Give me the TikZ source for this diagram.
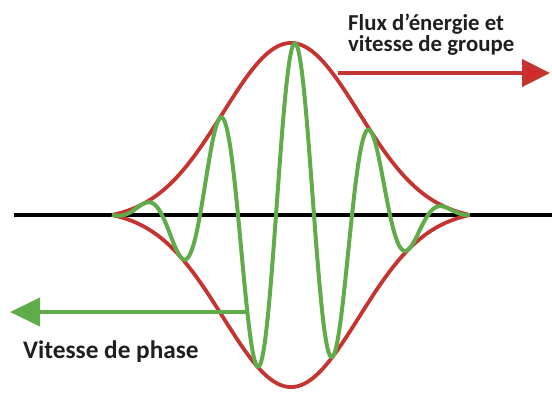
\documentclass[tikz,border=0pt]{standalone}
\usepackage{fontspec}
\setmainfont{Carlito}
\usetikzlibrary{arrows.meta}
\definecolor{envred}{RGB}{196,52,48}
\definecolor{arrred}{RGB}{214,40,40}
\definecolor{wavegreen}{RGB}{96,172,74}
\tikzset{
  axisline/.style={line width=3.5bp, black},
  envelope/.style={line width=3.8bp, envred, line join=round},
  wave/.style={line width=4bp, wavegreen, line join=round},
  grouparrow/.style={line width=4.5bp, envred, -{Triangle[length=28bp,width=27bp,fill=arrred]}},
  phasearrow/.style={line width=4bp, wavegreen, -{Triangle[length=30bp,width=28bp]}},
  lbl/.style={font=\bfseries, inner sep=0pt, align=left, text=black!88}
}
\begin{document}
\begin{tikzpicture}[x=1bp,y=-1bp]
\useasboundingbox (0,0) rectangle (552,396);
% axis
\coordinate (axL) at (14,215);
\coordinate (axR) at (552,215);
\draw[axisline] (axL) -- (axR);
% envelope
\draw[envelope] plot[domain=-1.79:1.79, samples=181, smooth] ({291+100*\x}, {215-172*(exp(-\x*\x/0.9248)-0.0313)/0.9687});
\draw[envelope] plot[domain=-1.79:1.79, samples=181, smooth] ({291+100*\x}, {215+172*(exp(-\x*\x/0.9248)-0.0313)/0.9687});
% carrier wave
\draw[wave] plot[domain=-1.79:1.79, samples=361, smooth] ({291+100*\x}, {215-172*(exp(-\x*\x/0.9248)-0.0313)/0.9687*cos(473.68*\x-18.95)});
% arrows
\coordinate (gs) at (338,73);
\coordinate (ge) at (550,73);
\draw[grouparrow] (gs) -- (ge);
\coordinate (ps) at (248,312);
\coordinate (pe) at (10,312);
\draw[phasearrow] (ps) -- (pe);
% labels
\node[lbl, anchor=base west, font=\bfseries\fontsize{22.8bp}{21bp}\selectfont] (glabel) at (348,51) {Flux d’énergie et\\vitesse de groupe};
\node[lbl, anchor=base west, font=\bfseries\fontsize{25.3bp}{26bp}\selectfont] (plabel) at (23,358) {Vitesse de phase};
\end{tikzpicture}
\end{document}
